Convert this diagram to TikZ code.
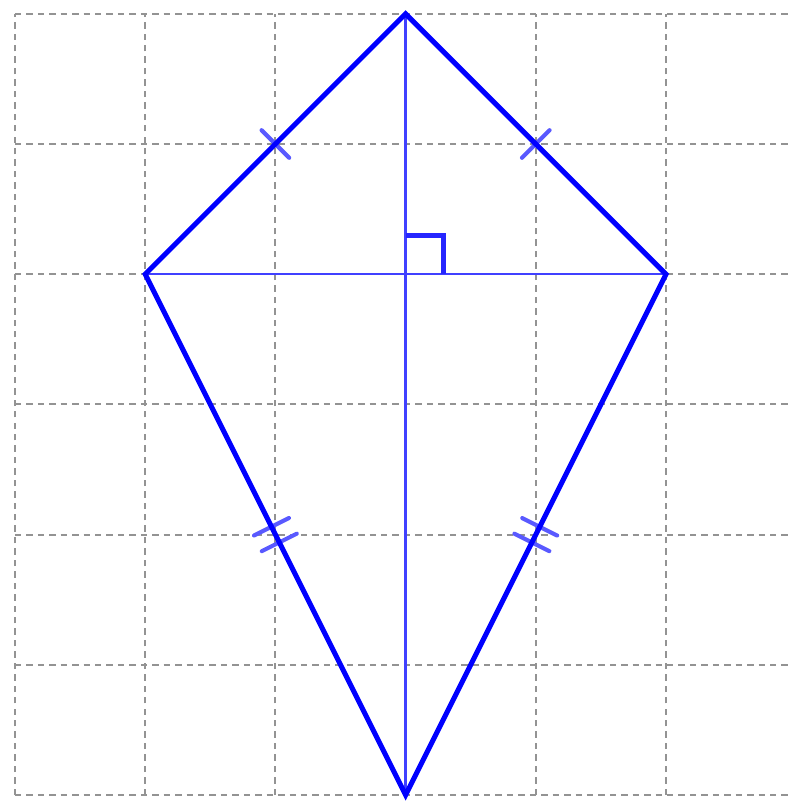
\documentclass[tikz,border=0pt]{standalone}
\usetikzlibrary{calc}
\begin{document}
\begin{tikzpicture}[x=1cm,y=1cm,
  gridline/.style={draw=gray!85, line width=0.45pt, dash pattern=on 1.4pt off 1.1pt},
  kiteedge/.style={draw=blue, line width=1.1pt, line join=miter},
  diag/.style={draw=blue!75, line width=0.55pt},
  tickmark/.style={draw=blue!65, line width=0.9pt, line cap=round},
  rightmark/.style={draw=blue!85, line width=1.1pt}]
\useasboundingbox (-0.115,-0.046) rectangle (5.96,6.106);
\begin{scope}
\clip (-0.115,-0.046) rectangle (5.96,6.106);
\foreach \i in {0,...,5} \draw[gridline] (\i,0) -- (\i,6);
\foreach \j in {0,...,6} \draw[gridline] (0,\j) -- (6.2,\j);
\end{scope}
\coordinate (T) at (3,6);
\coordinate (L) at (1,4);
\coordinate (R) at (5,4);
\coordinate (B) at (3,0);
\coordinate (O) at (3,4);
% diagonals
\draw[diag] (T) -- (B);
\draw[diag] (L) -- (R);
% right angle
\draw[rightmark] (O) ++(0,0.3) coordinate (ra1) -- ++(0.29,0) coordinate (ra2) -- ++(0,-0.3) coordinate (ra3);
% tick marks
\path (L) -- (T) coordinate[pos=0.5] (m1);
\path (R) -- (T) coordinate[pos=0.5] (m2);
\path (L) -- (B) coordinate[pos=0.485] (m3a) coordinate[pos=0.515] (m3b);
\path (R) -- (B) coordinate[pos=0.485] (m4a) coordinate[pos=0.515] (m4b);
\draw[tickmark] ($(m1)!0.15cm!90:(T)$) -- ($(m1)!0.15cm!-90:(T)$);
\draw[tickmark] ($(m2)!0.15cm!90:(T)$) -- ($(m2)!0.15cm!-90:(T)$);
\draw[tickmark] ($(m3a)!0.15cm!90:(B)$) -- ($(m3a)!0.15cm!-90:(B)$);
\draw[tickmark] ($(m3b)!0.15cm!90:(B)$) -- ($(m3b)!0.15cm!-90:(B)$);
\draw[tickmark] ($(m4a)!0.15cm!90:(B)$) -- ($(m4a)!0.15cm!-90:(B)$);
\draw[tickmark] ($(m4b)!0.15cm!90:(B)$) -- ($(m4b)!0.15cm!-90:(B)$);
% kite
\draw[kiteedge] (T) -- (R) -- (B) -- (L) -- cycle;
\end{tikzpicture}
\end{document}
